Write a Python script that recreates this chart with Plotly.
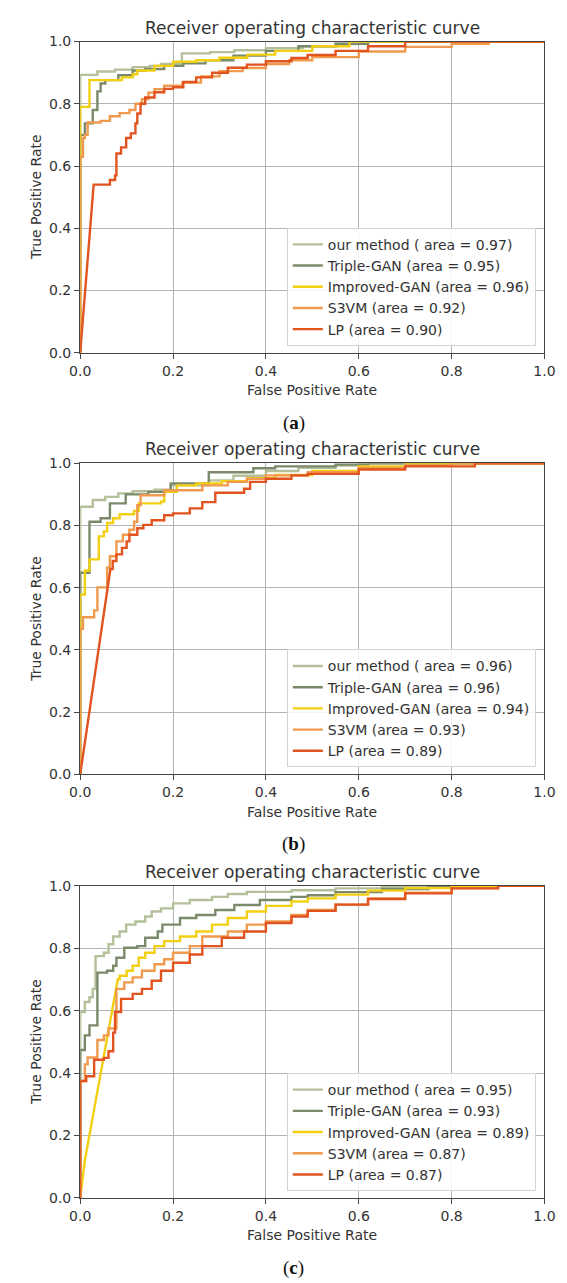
import plotly.graph_objects as go

# ---------------- data ----------------
METHODS = ["our method", "Triple-GAN", "Improved-GAN", "S3VM", "LP"]
AUC_A = [0.97, 0.95, 0.96, 0.92, 0.90]
AUC_B = [0.96, 0.96, 0.94, 0.93, 0.89]
AUC_C = [0.95, 0.93, 0.89, 0.87, 0.87]
TICKS = [0.0, 0.2, 0.4, 0.6, 0.8, 1.0]
PANEL_LABELS = ["a", "b", "c"]

# panel (a)
OUR_A_FPR = [0,0, .037,.037, .075,.075, .113,.113, .15,.15, .174,.174, .219,.219, .28,.28, .332,.332, .4,.4, .48,.48, .55,.55, .6,.6, 1]
OUR_A_TPR = [0,.893, .893,.904, .904,.91, .91,.918, .918,.922, .922,.928, .928,.962, .962,.966, .966,.972, .972,.979, .979,.985, .985,.992, .992,1, 1]
TRI_A_FPR = [0,0, .01,.01, .027,.027, .037,.037, .044,.044, .054,.054, .082,.082, .113,.113, .14,.14, .181,.181, .222,.222, .27,.27, .33,.33, .4,.4, .47,.47, .55,.55, .62,.62, 1]
TRI_A_TPR = [0,.70, .70,.737, .737,.78, .78,.84, .84,.865, .865,.876, .876,.892, .892,.907, .907,.912, .912,.922, .922,.93, .93,.94, .94,.955, .955,.97, .97,.985, .985,.993, .993,1, 1]
IMP_A_FPR = [0,0, .02,.02, .09,.09, .113,.113, .123,.123, .16,.16, .2,.2, .25,.25, .3,.3, .36,.36, .42,.42, .5,.5, .58,.58, 1]
IMP_A_TPR = [0,.79, .79,.876, .876,.885, .885,.895, .895,.907, .907,.922, .922,.935, .935,.94, .94,.948, .948,.958, .958,.97, .97,.985, .985,1, 1]
S3_A_FPR = [0,0, .006,.006, .01,.01, .016,.016, .044,.044, .064,.064, .085,.085, .106,.106, .119,.119, .133,.133, .147,.147, .16,.16, .181,.181, .22,.22, .26,.26, .3,.3, .35,.35, .4,.4, .45,.45, .5,.5, .6,.6, .7,.7, .8,.8, .88,.88, 1]
S3_A_TPR = [0,.63, .63,.69, .69,.70, .70,.74, .74,.745, .745,.76, .76,.77, .77,.78, .78,.80, .80,.815, .815,.836, .836,.847, .847,.858, .858,.868, .868,.888, .888,.905, .905,.915, .915,.928, .928,.94, .94,.95, .95,.968, .968,.983, .983,.993, .993,1, 1]
LP_A_FPR = [0, .029, .064,.064, .075,.075, .078,.078, .088,.088, .099,.099, .109,.109, .119,.119, .123,.123, .13,.13, .14,.14, .16,.16, .181,.181, .2,.2, .222,.222, .25,.25, .284,.284, .318,.318, .359,.359, .4,.4, .455,.455, .49,.49, .55,.55, .62,.62, .7,.7, 1]
LP_A_TPR = [0, .54, .54,.555, .555,.57, .57,.64, .64,.66, .66,.69, .69,.705, .705,.737, .737,.769, .769,.80, .80,.82, .82,.837, .837,.848, .848,.853, .853,.87, .87,.885, .885,.90, .90,.916, .916,.926, .926,.937, .937,.947, .947,.957, .957,.97, .97,.985, .985,1, 1]

# panel (b)
OUR_B_FPR = [0,0, .027,.027, .054,.054, .082,.082, .113,.113, .16,.16, .195,.195, .277,.277, .33,.33, .4,.4, .47,.47, .55,.55, .6,.6, 1]
OUR_B_TPR = [0,.86, .86,.882, .882,.892, .892,.903, .903,.91, .91,.915, .915,.929, .929,.945, .945,.96, .96,.975, .975,.985, .985,.993, .993,1, 1]
TRI_B_FPR = [0,0, .02,.02, .044,.044, .064,.064, .098,.098, .147,.147, .195,.195, .277,.277, .373,.373, .42,.42, .55,.55, .62,.62, 1]
TRI_B_TPR = [0,.648, .648,.812, .812,.823, .823,.871, .871,.90, .90,.908, .908,.935, .935,.971, .971,.984, .984,.99, .99,.996, .996,1, 1]
IMP_B_FPR = [0,0, .01,.01, .02,.02, .04,.04, .051,.051, .058,.058, .071,.071, .085,.085, .116,.116, .126,.126, .174,.174, .181,.181, .208,.208, .25,.25, .305,.305, .36,.36, .42,.42, .5,.5, .6,.6, .7,.7, 1]
IMP_B_TPR = [0,.578, .578,.655, .655,.691, .691,.765, .765,.781, .781,.808, .808,.823, .823,.836, .836,.847, .847,.871, .871,.877, .877,.908, .908,.929, .929,.935, .935,.942, .942,.952, .952,.962, .962,.975, .975,.99, .99,1, 1]
S3_B_FPR = [0,0, .006,.006, .03,.03, .037,.037, .058,.058, .064,.064, .078,.078, .092,.092, .106,.106, .116,.116, .123,.123, .13,.13, .181,.181, .263,.263, .318,.318, .359,.359, .4,.4, .49,.49, .6,.6, .7,.7, .8,.8, 1]
S3_B_TPR = [0,.468, .468,.505, .505,.527, .527,.601, .601,.665, .665,.701, .701,.749, .749,.77, .77,.786, .786,.812, .812,.865, .865,.897, .897,.913, .913,.929, .929,.94, .94,.95, .95,.961, .961,.971, .971,.985, .985,.993, .993,1, 1]
LP_B_FPR = [0, .065, .07,.07, .078,.078, .09,.09, .1,.1, .106,.106, .123,.123, .136,.136, .154,.154, .181,.181, .2,.2, .236,.236, .263,.263, .291,.291, .353,.353, .366,.366, .4,.4, .455,.455, .49,.49, .6,.6, .7,.7, .85,.85, 1]
LP_B_TPR = [0, .66, .66,.686, .686,.707, .707,.728, .728,.749, .749,.77, .77,.791, .791,.802, .802,.817, .817,.833, .833,.839, .839,.855, .855,.875, .875,.905, .905,.918, .918,.94, .94,.95, .95,.961, .961,.966, .966,.98, .98,.99, .99,1, 1]

# panel (c)
OUR_C_FPR = [0,0, .01,.01, .02,.02, .027,.027, .033,.033, .051,.051, .061,.061, .071,.071, .085,.085, .099,.099, .119,.119, .14,.14, .154,.154, .174,.174, .2,.2, .236,.236, .284,.284, .318,.318, .359,.359, .455,.455, .55,.55, .65,.65, .75,.75, 1]
OUR_C_TPR = [0,.596, .596,.628, .628,.643, .643,.67, .67,.775, .775,.786, .786,.813, .813,.838, .838,.854, .854,.876, .876,.886, .886,.902, .902,.918, .918,.928, .928,.944, .944,.955, .955,.965, .965,.974, .974,.981, .981,.986, .986,.992, .992,.997, .997,1, 1]
TRI_C_FPR = [0,0, .01,.01, .02,.02, .037,.037, .058,.058, .071,.071, .078,.078, .095,.095, .123,.123, .14,.14, .167,.167, .177,.177, .215,.215, .25,.25, .291,.291, .332,.332, .387,.387, .455,.455, .49,.49, .55,.55, .65,.65, .75,.75, .82,.82, 1]
TRI_C_TPR = [0,.474, .474,.521, .521,.553, .553,.722, .722,.728, .728,.744, .744,.77, .77,.802, .802,.807, .807,.834, .834,.854, .854,.876, .876,.897, .897,.907, .907,.923, .923,.939, .939,.955, .955,.965, .965,.97, .97,.98, .98,.99, .99,.997, .997,1, 1]
IMP_C_FPR = [0, .01, .081, .085,.085, .1,.1, .113,.113, .126,.126, .14,.14, .16,.16, .181,.181, .215,.215, .25,.25, .284,.284, .318,.318, .359,.359, .4,.4, .455,.455, .49,.49, .55,.55, .62,.62, .7,.7, .8,.8, 1]
IMP_C_TPR = [0, .12, .701, .701,.712, .712,.728, .728,.744, .744,.77, .77,.786, .786,.807, .807,.823, .823,.838, .838,.854, .854,.876, .876,.897, .897,.918, .918,.936, .936,.95, .95,.96, .96,.972, .972,.985, .985,.993, .993,1, 1]
S3_C_FPR = [0,0, .01,.01, .016,.016, .037,.037, .051,.051, .061,.061, .078,.078, .095,.095, .113,.113, .133,.133, .16,.16, .181,.181, .2,.2, .236,.236, .263,.263, .318,.318, .359,.359, .4,.4, .455,.455, .49,.49, .55,.55, .62,.62, .7,.7, .8,.8, .9,.9, 1]
S3_C_TPR = [0,.375, .375,.428, .428,.45, .45,.506, .506,.521, .521,.543, .543,.67, .67,.691, .691,.707, .707,.728, .728,.749, .749,.765, .765,.786, .786,.807, .807,.838, .838,.854, .854,.876, .876,.886, .886,.907, .907,.923, .923,.94, .94,.96, .96,.978, .978,.993, .993,1, 1]
LP_C_FPR = [0,0, .013,.013, .03,.03, .051,.051, .061,.061, .071,.071, .075,.075, .088,.088, .113,.113, .133,.133, .154,.154, .174,.174, .2,.2, .236,.236, .263,.263, .305,.305, .353,.353, .4,.4, .455,.455, .49,.49, .55,.55, .62,.62, .7,.7, .8,.8, .9,.9, 1]
LP_C_TPR = [0,.375, .375,.39, .39,.443, .443,.449, .449,.47, .47,.53, .53,.596, .596,.638, .638,.654, .654,.67, .67,.696, .696,.728, .728,.754, .754,.78, .78,.807, .807,.834, .834,.854, .854,.881, .881,.902, .902,.92, .92,.94, .94,.958, .958,.976, .976,.992, .992,1, 1]

# ---------------- styling / layout ----------------
COLORS = ["#b3c09a", "#7c8a6c", "#f3cf12", "#ef9a4e", "#e2541f"]
W, H = 567, 1283
LEFT, RIGHT = 72, 555
TOPS = [34, 461, 889]
BOTTOMS = [349, 776, 1205]
FONT = "DejaVu Sans"
TXT = "#333333"
FRAME = "#454545"

panels = [
    (AUC_A, [(OUR_A_FPR, OUR_A_TPR), (TRI_A_FPR, TRI_A_TPR), (IMP_A_FPR, IMP_A_TPR), (S3_A_FPR, S3_A_TPR), (LP_A_FPR, LP_A_TPR)]),
    (AUC_B, [(OUR_B_FPR, OUR_B_TPR), (TRI_B_FPR, TRI_B_TPR), (IMP_B_FPR, IMP_B_TPR), (S3_B_FPR, S3_B_TPR), (LP_B_FPR, LP_B_TPR)]),
    (AUC_C, [(OUR_C_FPR, OUR_C_TPR), (TRI_C_FPR, TRI_C_TPR), (IMP_C_FPR, IMP_C_TPR), (S3_C_FPR, S3_C_TPR), (LP_C_FPR, LP_C_TPR)]),
]

fig = go.Figure()
annotations = []
layout = dict(
    width=W, height=H, margin=dict(l=0, r=0, t=0, b=0),
    paper_bgcolor="white", plot_bgcolor="white",
    font=dict(family=FONT, size=14, color=TXT),
)

def py(p):
    return 1 - p / H

for i, (aucs, curves) in enumerate(panels):
    n = "" if i == 0 else str(i + 1)
    leg = "legend" + n
    for k, (fpr, tpr) in enumerate(curves):
        assert len(fpr) == len(tpr), (i, k)
        name = f"{METHODS[k]} ( area = {aucs[k]:.2f})" if k == 0 else f"{METHODS[k]} (area = {aucs[k]:.2f})"
        fig.add_trace(go.Scatter(
            x=fpr, y=tpr, mode="lines", name=name,
            line=dict(color=COLORS[k], width=2.4),
            xaxis="x" + n, yaxis="y" + n, legend=leg,
        ))
    axis_common = dict(
        range=[0, 1], tickvals=TICKS, tickformat=".1f",
        ticks="outside", ticklen=5, tickwidth=1.2, tickcolor=FRAME,
        showline=True, mirror=True, linecolor=FRAME, linewidth=1.3,
        showgrid=True, gridcolor="#b4b4b4", gridwidth=1, zeroline=False,
        tickfont=dict(family=FONT, size=14, color=TXT), fixedrange=True,
    )
    layout["xaxis" + n] = dict(axis_common, domain=[LEFT / W, RIGHT / W], anchor="y" + n)
    layout["yaxis" + n] = dict(axis_common, domain=[py(BOTTOMS[i]), py(TOPS[i])], anchor="x" + n)
    layout[leg] = dict(
        x=546 / W, xanchor="right", y=py(BOTTOMS[i] - 7), yanchor="bottom",
        bgcolor="rgba(255,255,255,0.85)", bordercolor="#d2d2d2", borderwidth=1,
        font=dict(family=FONT, size=14, color=TXT), itemwidth=30, tracegroupgap=0,
    )
    cx = (LEFT + RIGHT) / 2 / W
    annotations += [
        dict(text="Receiver operating characteristic curve", x=cx, y=py(TOPS[i] - 14),
             xref="paper", yref="paper", showarrow=False, xanchor="center", yanchor="middle",
             font=dict(family=FONT, size=17, color=TXT)),
        dict(text="False Positive Rate", x=cx, y=py(BOTTOMS[i] + 38),
             xref="paper", yref="paper", showarrow=False, xanchor="center", yanchor="middle",
             font=dict(family=FONT, size=14, color=TXT)),
        dict(text="True Positive Rate", x=26 / W, y=py((TOPS[i] + BOTTOMS[i]) / 2), textangle=-90,
             xref="paper", yref="paper", showarrow=False, xanchor="center", yanchor="middle",
             font=dict(family=FONT, size=14, color=TXT)),
        dict(text=f"(<b>{PANEL_LABELS[i]}</b>)", x=294 / W, y=py(BOTTOMS[i] + 71),
             xref="paper", yref="paper", showarrow=False, xanchor="center", yanchor="middle",
             font=dict(family="Liberation Serif", size=19, color="#111111")),
    ]

layout["annotations"] = annotations
fig.update_layout(**layout)
fig.write_html("out.html")
